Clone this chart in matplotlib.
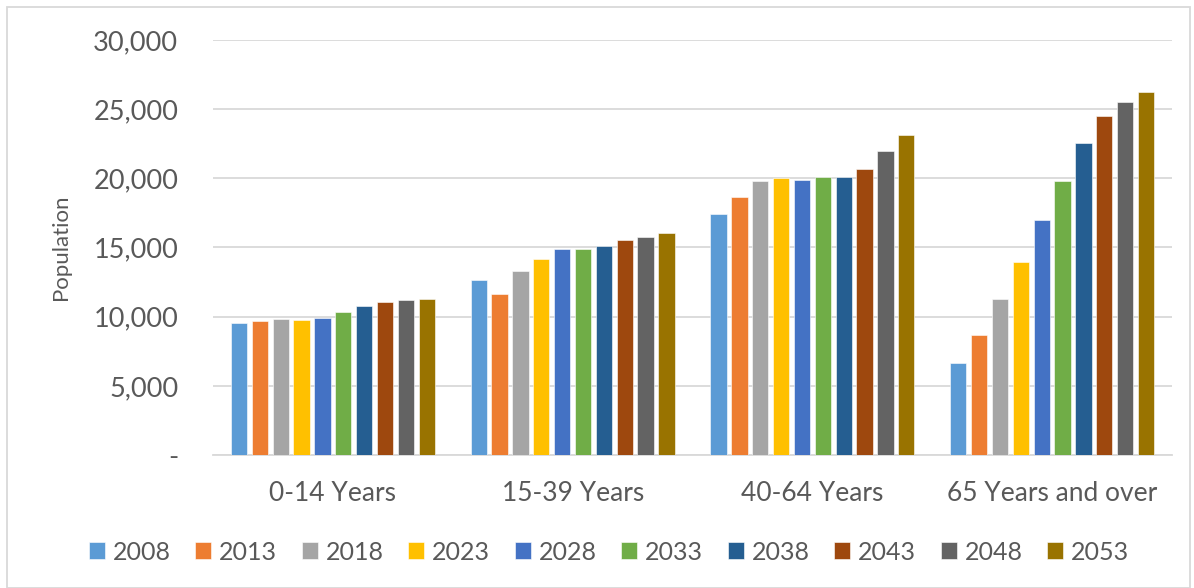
import matplotlib
matplotlib.use("Agg")
import matplotlib.pyplot as plt
import numpy as np
from matplotlib.patches import Rectangle

categories = ["0-14 Years", "15-39 Years", "40-64 Years", "65 Years and over"]
years = ["2008", "2013", "2018", "2023", "2028", "2033", "2038", "2043", "2048", "2053"]
v2008 = [9540, 12660, 17420, 6630]
v2013 = [9690, 11670, 18670, 8650]
v2018 = [9810, 13290, 19830, 11260]
v2023 = [9760, 14180, 20030, 13960]
v2028 = [9880, 14880, 19910, 16990]
v2033 = [10360, 14910, 20070, 19830]
v2038 = [10780, 15120, 20100, 22590]
v2043 = [11040, 15510, 20700, 24470]
v2048 = [11190, 15780, 21940, 25510]
v2053 = [11280, 16070, 23150, 26210]
series = [v2008, v2013, v2018, v2023, v2028, v2033, v2038, v2043, v2048, v2053]
colors = ["#5B9BD5", "#ED7D31", "#A5A5A5", "#FFC000", "#4472C4",
          "#70AD47", "#255E91", "#9E480E", "#636363", "#997300"]

plt.rcParams['font.family'] = ['Lato', 'DejaVu Sans']
fig = plt.figure(figsize=(11.94, 5.88), dpi=100)
ax = fig.add_axes([213/1194, 133/588, 959/1194, 415/588])

x = np.arange(len(categories))
n = len(series)
step = 0.087
width = 0.068
for i, (vals, c, y) in enumerate(zip(series, colors, years)):
    ax.bar(x + (i - (n - 1) / 2) * step, vals, width=width, color=c, label=y,
           edgecolor="white", linewidth=0.4, zorder=3)

ax.set_xlim(-0.5, len(categories) - 0.5)
ax.set_ylim(0, 30000)
ax.set_yticks(range(0, 30001, 5000))
ax.set_yticklabels(["-"] + [f"{v:,}" for v in range(5000, 30001, 5000)])
ax.set_xticks(x)
ax.set_xticklabels(categories)
ax.tick_params(axis='y', length=0, labelsize=19.5, colors="#595959", pad=25)
ax.tick_params(axis='x', length=0, labelsize=19, colors="#595959", pad=19)
ax.grid(axis='y', color="#D9D9D9", linewidth=1.3, zorder=0)
for s in ["top", "right", "left"]:
    ax.spines[s].set_visible(False)
ax.spines["bottom"].set_color("#D9D9D9")
ax.spines["bottom"].set_linewidth(1.3)
ax.set_ylabel("Population", fontsize=16, color="#595959", labelpad=16)

fig.legend(loc="center", bbox_to_anchor=(0.51, 36/588), ncol=10, frameon=False,
           fontsize=18, handlelength=0.64, handleheight=0.64, handletextpad=0.3,
           columnspacing=1.0, labelcolor="#595959")

fig.patches.append(Rectangle((7/1194, 0), 1183/1194, 581/588, transform=fig.transFigure,
                             fill=False, edgecolor="#D9D9D9", linewidth=1.3))

fig.savefig("out.png", dpi=100)
